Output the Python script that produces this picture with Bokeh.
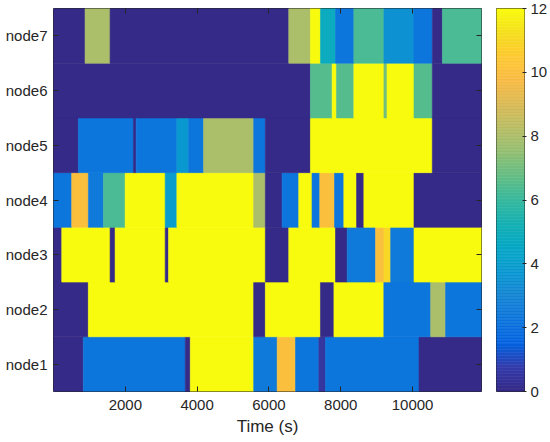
import numpy as np
from bokeh.plotting import figure
from bokeh.models import (ColumnDataSource, FixedTicker, Range1d, LinearAxis,
                          LinearColorMapper)
from bokeh.layouts import row
from bokeh.embed import file_html
from bokeh.resources import INLINE
from bokeh.transform import transform

# ---------------- data (time edges in s, value per segment) ----------------
node_names = ["node1", "node2", "node3", "node4", "node5", "node6", "node7"]

node1_edges = [0, 830, 3670, 3810, 5575, 6230, 6740, 7390, 7575, 10180, 11920]
node1_vals = [0, 2.3, 0, 12, 2.5, 10, 2.3, 0.5, 2.3, 0]

node2_edges = [0, 970, 5575, 5900, 7435, 7810, 9200, 10505, 10920, 11920]
node2_vals = [0, 12, 0, 12, 0, 12, 2.3, 8, 2.3]

node3_edges = [0, 230, 1576, 1716, 3111, 3204, 5900, 6552, 7854, 8180, 8970,
               9203, 9390, 10040, 11920]
node3_vals = [0, 12, 0, 12, 0, 12, 0, 12, 0, 2.5, 10, 11, 2.5, 12]

node4_edges = [0, 507, 972, 1390, 1995, 3111, 3436, 5575, 5900, 6366, 6830,
               7200, 7416, 7826, 8086, 8440, 8644, 10040, 11920]
node4_vals = [2.3, 10, 2.5, 6.3, 12, 4, 12, 8, 0, 2.3, 12, 2.3, 10, 2.3, 12,
              0, 12, 0]

node5_edges = [0, 693, 2227, 2302, 3436, 3762, 4180, 5575, 5900, 7156, 10550,
               11920]
node5_vals = [0, 2.3, 0, 2.3, 3.8, 2.3, 8, 2.3, 0, 12, 0]

node6_edges = [0, 7156, 7760, 7880, 8365, 9203, 9290, 10040, 10550, 11920]
node6_vals = [0, 6.5, 12, 6.5, 12, 7, 12, 6.5, 0]

node7_edges = [0, 879, 1576, 6552, 7156, 7435, 7854, 8365, 9203, 10040, 10550,
               10830, 11920]
node7_vals = [0, 8, 0, 8, 12, 4.8, 2.3, 6.3, 3.5, 2.3, 0, 6.3]

x_ticks = [2000, 4000, 6000, 8000, 10000]
cbar_ticks = [0, 2, 4, 6, 8, 10, 12]
v_low, v_high = 0, 12

# ---------------- parula colormap ----------------
parula_anchors = [
    (0.2081, 0.1663, 0.5292), (0.2081, 0.2386, 0.6771), (0.0117, 0.3875, 0.8820),
    (0.0498, 0.4586, 0.8641), (0.0793, 0.5200, 0.8312), (0.0343, 0.5966, 0.8199),
    (0.0228, 0.6535, 0.7768), (0.0843, 0.6928, 0.7062), (0.2178, 0.7250, 0.6193),
    (0.3953, 0.7459, 0.5244), (0.5709, 0.7485, 0.4494), (0.7184, 0.7411, 0.3905),
    (0.8507, 0.7299, 0.3360), (0.9739, 0.7314, 0.2666), (0.9955, 0.7861, 0.1967),
    (0.9626, 0.8705, 0.1309), (0.9763, 0.9831, 0.0538)]
anc = np.array(parula_anchors)
t_anc = np.linspace(0, 1, len(anc))
t = np.linspace(0, 1, 256)
rgb = np.stack([np.interp(t, t_anc, anc[:, k]) for k in range(3)], axis=1)
palette = ["#%02x%02x%02x" % tuple(int(round(c * 255)) for c in col) for col in rgb]
mapper = LinearColorMapper(palette=palette, low=v_low, high=v_high)

# ---------------- build segments ----------------
all_edges = [node1_edges, node2_edges, node3_edges, node4_edges, node5_edges,
             node6_edges, node7_edges]
all_vals = [node1_vals, node2_vals, node3_vals, node4_vals, node5_vals,
            node6_vals, node7_vals]
left, right, bottom, top, val = [], [], [], [], []
for i, (ed, vs) in enumerate(zip(all_edges, all_vals)):
    for j, v in enumerate(vs):
        left.append(ed[j]); right.append(ed[j + 1])
        bottom.append(i + 0.5); top.append(i + 1.5); val.append(v)
src = ColumnDataSource(dict(left=left, right=right, bottom=bottom, top=top, val=val))

FONT = "Liberation Sans"
TXT = "#262626"

p = figure(width=484, height=442, output_backend="svg", toolbar_location=None,
           x_range=Range1d(0, 11920), y_range=Range1d(0.5, 7.5),
           min_border_left=53, min_border_right=3, min_border_top=8,
           min_border_bottom=51)
p.quad(left="left", right="right", bottom="bottom", top="top", source=src,
       fill_color=transform("val", mapper), line_color=transform("val", mapper),
       line_width=0.6)
p.grid.visible = False
p.outline_line_color = TXT
p.outline_line_alpha = 1
p.outline_line_width = 1
p.background_fill_color = "white"

p.xaxis.ticker = FixedTicker(ticks=x_ticks)
p.xaxis.minor_tick_line_color = None
p.xaxis.major_tick_in = 5
p.xaxis.major_tick_out = 0
p.xaxis.axis_line_color = None
p.xaxis.major_tick_line_color = TXT
p.xaxis.major_label_text_font = FONT
p.xaxis.major_label_text_font_size = "15px"
p.xaxis.major_label_text_color = TXT
p.xaxis.major_label_standoff = 8
p.xaxis.axis_label = "Time (s)"
p.xaxis.axis_label_text_font = FONT
p.xaxis.axis_label_text_font_size = "17px"
p.xaxis.axis_label_text_font_style = "normal"
p.xaxis.axis_label_text_color = TXT
p.xaxis.axis_label_standoff = 4

p.yaxis.ticker = FixedTicker(ticks=list(range(1, 8)))
p.yaxis.major_label_overrides = {i + 1: n for i, n in enumerate(node_names)}
p.yaxis.minor_tick_line_color = None
p.yaxis.major_tick_in = 5
p.yaxis.major_tick_out = 0
p.yaxis.axis_line_color = None
p.yaxis.major_tick_line_color = TXT
p.yaxis.major_label_text_font = FONT
p.yaxis.major_label_text_font_size = "15px"
p.yaxis.major_label_text_color = TXT
p.yaxis.major_label_standoff = 6

top_ax = LinearAxis(ticker=FixedTicker(ticks=x_ticks), major_tick_in=5,
                    major_tick_out=0, minor_tick_line_color=None,
                    axis_line_color=None, major_tick_line_color=TXT,
                    major_label_overrides={tk: "" for tk in x_ticks},
                    major_label_standoff=0)
p.add_layout(top_ax, "above")
right_ax = LinearAxis(ticker=FixedTicker(ticks=list(range(1, 8))), major_tick_in=5,
                      major_tick_out=0, minor_tick_line_color=None,
                      axis_line_color=None, major_tick_line_color=TXT,
                      major_label_overrides={tk: "" for tk in range(1, 8)},
                      major_label_standoff=0)
p.add_layout(right_ax, "right")

# ---------------- colorbar figure ----------------
lv = np.linspace(v_low, v_high, len(palette) + 1)
cb_src = ColumnDataSource(dict(b=lv[:-1], t=lv[1:], c=palette))
p2 = figure(width=66, height=442, output_backend="svg", toolbar_location=None,
            x_range=Range1d(0, 1), y_range=Range1d(v_low, v_high),
            y_axis_location="right",
            min_border_left=12, min_border_right=25, min_border_top=8,
            min_border_bottom=51)
p2.quad(left=0, right=1, bottom="b", top="t", fill_color="c", line_color="c",
        line_width=0.6, source=cb_src)
p2.grid.visible = False
p2.xaxis.visible = False
p2.outline_line_color = TXT
p2.outline_line_alpha = 1
p2.yaxis.ticker = FixedTicker(ticks=cbar_ticks)
p2.yaxis.minor_tick_line_color = None
p2.yaxis.major_tick_in = 2
p2.yaxis.major_tick_out = 2
p2.yaxis.axis_line_color = None
p2.yaxis.major_tick_line_color = TXT
p2.yaxis.major_label_text_font = FONT
p2.yaxis.major_label_text_font_size = "15px"
p2.yaxis.major_label_text_color = TXT
p2.yaxis.major_label_standoff = 4

layout = row(p, p2)
open("out.html", "w").write(file_html(layout, INLINE))
